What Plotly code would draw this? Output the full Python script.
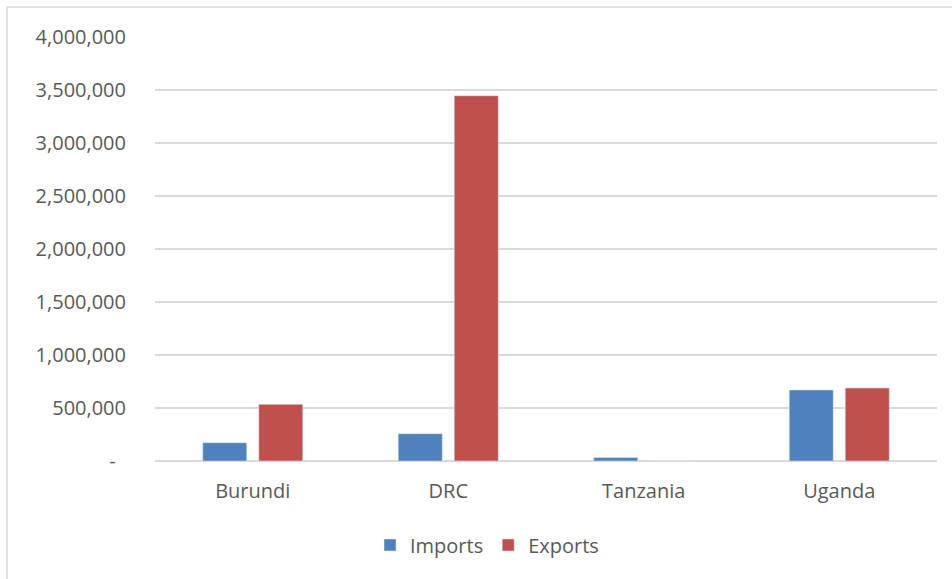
import plotly.graph_objects as go

# Trade values by partner country
countries = ["Burundi", "DRC", "Tanzania", "Uganda"]
imports = [172000, 258000, 32000, 670000]
exports = [535000, 3446000, 0, 689000]

# Y axis ticks (zero shown as a dash, accounting style)
tick_vals = [0, 500000, 1000000, 1500000, 2000000, 2500000, 3000000, 3500000, 4000000]
tick_text = ["-\u00a0\u00a0", "500,000", "1,000,000", "1,500,000", "2,000,000",
             "2,500,000", "3,000,000", "3,500,000", "4,000,000"]

W, H = 952, 579
ML, MR, MT, MB = 155, 15, 37, 118
text_color = "#595959"
font_family = "Open Sans"
fs = 20

fig = go.Figure()
fig.add_trace(go.Bar(name="Imports", x=countries, y=imports, marker_color="#4F81BD"))
fig.add_trace(go.Bar(name="Exports", x=countries, y=exports, marker_color="#C0504D"))

pw = W - ML - MR
ph = H - MT - MB
# light frame around the whole chart area
fig.add_shape(type="rect", xref="paper", yref="paper",
              x0=(7 - ML) / pw, x1=(W + 20 - ML) / pw,
              y0=(H - MB - (H + 20)) / ph, y1=1 + (MT - 7) / ph,
              line=dict(color="#D9D9D9", width=1.5), fillcolor="rgba(0,0,0,0)", layer="below")

fig.update_layout(
    width=W, height=H,
    margin=dict(l=ML, r=MR, t=MT, b=MB),
    paper_bgcolor="white", plot_bgcolor="white",
    barmode="group", bargap=0.427, bargroupgap=0.214,
    font=dict(family=font_family, size=fs, color=text_color),
    showlegend=True,
    legend=dict(orientation="h", xref="container", yref="container",
                x=487 / W, y=1 - 545 / H, xanchor="center", yanchor="middle",
                font=dict(size=fs, color=text_color), itemwidth=30,
                tracegroupgap=0),
    xaxis=dict(showgrid=False, showline=False, ticks="", tickfont=dict(size=fs),
               ticklabelstandoff=16),
    yaxis=dict(range=[0, 4000000], tickvals=tick_vals, ticktext=tick_text,
               showgrid=True, gridcolor="#D9D9D9", gridwidth=1.5,
               zeroline=True, zerolinecolor="#D9D9D9", zerolinewidth=1.5,
               showline=False, ticks="", ticklabelstandoff=28, tickfont=dict(size=fs)),
)

fig.write_html("out.html")
